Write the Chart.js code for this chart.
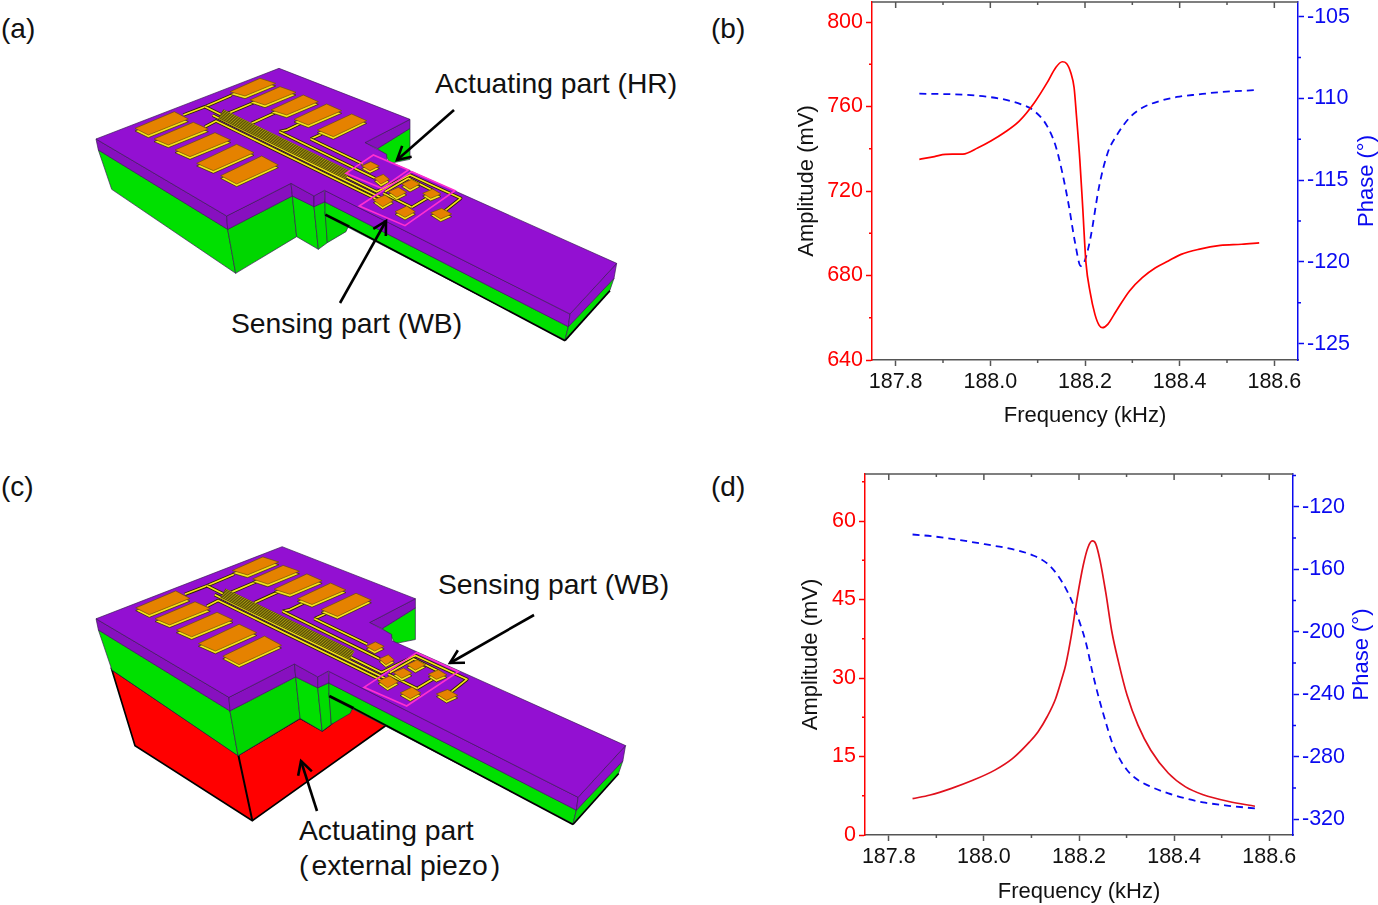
<!DOCTYPE html>
<html>
<head>
<meta charset="utf-8">
<title>Resonance curves</title>
<script src="https://cdn.jsdelivr.net/npm/chart.js@4"></script>
<style>
  html, body { margin: 0; padding: 0; background: #fff; }
  body { position: relative; width: 1378px; height: 905px; overflow: hidden; font-family: "Liberation Sans", Arial, sans-serif; }
  svg { position: absolute; left: 0; top: 0; }
  canvas { position: absolute; }
  svg text { font-family: "Liberation Sans", Arial, sans-serif; fill: #111; }
  .note { font-size: 28.3px; }
  .panel { font-size: 28px; }
</style>
</head>
<body>
<svg id="art" width="1378" height="905" viewBox="0 0 1378 905">
  <defs>
    <g id="device" transform="translate(90,60) scale(0.33333)" stroke-linejoin="round"></g>
  </defs>

  <!-- piezo block under the chip in (c) -->
  <polygon transform="translate(90,650) scale(0.33333)" fill="#ff0000" stroke="#000" stroke-width="5"
    points="65,58 445,315 630,205 697,242 720,225 785,170 890,225 487,512 135,287"/>
  <line transform="translate(90,650) scale(0.33333)" x1="445" y1="315" x2="487" y2="512" stroke="#000" stroke-width="6"/>

  <use href="#device"/>
  <use href="#device" transform="matrix(1.017 0 0 1.02 -1.6 477)"/>

  <!-- regions marked on the beam -->
  <g transform="translate(90,60) scale(0.33333)" fill="none" stroke="#ff2fd0" stroke-width="5">
    <polygon points="768,340 850,285 955,330 875,385"/>
    <polygon points="808,438 965,335 1095,392 945,497"/>
  </g>
  <g transform="translate(90,540) scale(0.33333)" fill="none" stroke="#ff2fd0" stroke-width="5">
    <polygon points="822,442 980,338 1105,395 950,498"/>
  </g>

  <g id="arrows" fill="none" stroke="#000" stroke-width="2.6"></g>

  <text class="panel" x="1" y="38">(a)</text>
  <text class="panel" x="711" y="38">(b)</text>
  <text class="panel" x="1" y="496">(c)</text>
  <text class="panel" x="711" y="496">(d)</text>
  <text class="note" x="435" y="93">Actuating part (HR)</text>
  <text class="note" x="231" y="333">Sensing part (WB)</text>
  <text class="note" x="438" y="594">Sensing part (WB)</text>
  <text class="note" x="299" y="840">Actuating part</text>
  <text class="note" x="299" y="875">(<tspan dx="3">external piezo</tspan><tspan dx="3">)</tspan></text>
</svg>

<canvas id="chartB" width="584" height="429" style="left:794px;top:0"></canvas>
<canvas id="chartD" width="575" height="905" style="left:798px;top:0"></canvas>

<script>
// values
const freqAmpB = [187.85,187.882,187.905,187.942,187.974,188.001,188.029,188.061,188.093,188.12,188.138,188.152,188.161,188.17,188.177,188.182,188.189,188.195,188.202,188.211,188.221,188.23,188.237,188.248,188.266,188.294,188.321,188.349,188.376,188.403,188.44,188.486,188.531,188.568];
const ampB = [735,736.3,737.4,737.5,740.5,743.7,747.6,753.1,761.8,771.3,778.4,781.2,780.4,776,768.9,755.5,735,712.9,686.1,671.9,661.6,656.4,655.3,656.9,663.2,672.7,679,683.7,686.9,690,692.4,694.3,694.8,695.5];
const freqPhaseB = [187.85,187.9,187.946,187.992,188.029,188.065,188.093,188.12,188.138,188.152,188.166,188.179,188.191,188.198,188.211,188.23,188.248,188.266,188.294,188.321,188.358,188.394,188.44,188.486,188.559];
const phaseB = [-109.71,-109.73,-109.77,-109.89,-110.06,-110.36,-110.77,-111.69,-112.91,-114.54,-116.58,-118.82,-120.25,-120.05,-118.62,-115.36,-113.32,-112.3,-111.18,-110.57,-110.16,-109.91,-109.75,-109.61,-109.49];

const freqAmpD = [187.85,187.887,187.932,187.978,188.023,188.06,188.096,188.114,188.133,188.151,188.164,188.172,188.184,188.196,188.209,188.219,188.228,188.235,188.244,188.256,188.269,188.283,188.301,188.324,188.351,188.388,188.424,188.461,188.515,188.57];
const ampD = [6.94,7.64,8.92,10.5,12.4,14.6,17.8,19.75,22.6,26.1,29.9,32.5,38.2,45.2,51.6,55,56.2,55.7,52.6,46.5,38.9,33.1,26.75,21,16.2,11.8,9.2,7.7,6.4,5.5];
const freqPhaseD = [187.85,187.896,187.95,188.005,188.06,188.105,188.133,188.155,188.174,188.187,188.201,188.215,188.228,188.242,188.256,188.269,188.283,188.301,188.324,188.351,188.388,188.424,188.461,188.515,188.57];
const phaseD = [-137.7,-139,-141.3,-144.1,-147.1,-151.3,-156.2,-163.7,-173.3,-181.8,-193.6,-207.4,-225.5,-242.6,-257.5,-270.3,-279.9,-288.4,-294.8,-299.1,-303.4,-306.6,-309.1,-311.3,-313];

const minorFreq = [187.9,188.1,188.3,188.5];
const minorAmpB = [660,700,740,780];
const minorPhaseB = [-122.5,-117.5,-112.5,-107.5];
const minorAmpD = [7.5,22.5,37.5,52.5,67.5];
const minorPhaseD = [-300,-260,-220,-180,-140,-100];

const FONT = '"Liberation Sans", Arial, sans-serif';
const RED = '#ff0000';
const BLUE = '#0a0af0';
const GREY = '#555555';

// ticks on the closed frame and the reversed right-hand title, which Chart.js cannot do itself
function framePlugin(minorLeft, minorRight, titleX) {
    return {
        id: 'frame',
        afterDraw(chart) {
            const { ctx, chartArea: a, scales } = chart;
            ctx.save();
            ctx.lineWidth = 1.5;
            ctx.strokeStyle = GREY;
            ctx.beginPath();
            ctx.moveTo(a.left, a.top);
            ctx.lineTo(a.right, a.top);
            scales.x.ticks.forEach(t => {
                const px = scales.x.getPixelForValue(t.value);
                ctx.moveTo(px, a.top);
                ctx.lineTo(px, a.top + 6);
            });
            minorFreq.forEach(v => {
                const px = scales.x.getPixelForValue(v);
                ctx.moveTo(px, a.top);
                ctx.lineTo(px, a.top + 3);
                ctx.moveTo(px, a.bottom);
                ctx.lineTo(px, a.bottom + 3);
            });
            ctx.stroke();

            ctx.strokeStyle = RED;
            ctx.beginPath();
            minorLeft.forEach(v => {
                const py = scales.y.getPixelForValue(v);
                ctx.moveTo(a.left, py);
                ctx.lineTo(a.left - 3, py);
            });
            ctx.stroke();

            ctx.strokeStyle = BLUE;
            ctx.beginPath();
            minorRight.forEach(v => {
                const py = scales.y2.getPixelForValue(v);
                ctx.moveTo(a.right, py);
                ctx.lineTo(a.right + 3, py);
            });
            ctx.stroke();

            ctx.translate(titleX, (a.top + a.bottom) / 2);
            ctx.rotate(-Math.PI / 2);
            ctx.fillStyle = BLUE;
            ctx.font = '22px ' + FONT;
            ctx.textAlign = 'center';
            ctx.textBaseline = 'middle';
            ctx.fillText('Phase (°)', 0, 0);
            ctx.restore();
        }
    };
}

function fixSize(w, h) {
    return scale => {
        if (w !== null) scale.width = w;
        if (h !== null) scale.height = h;
        scale.paddingLeft = scale.paddingRight = scale.paddingTop = scale.paddingBottom = 0;
    };
}

function makeChart(id, p) {
    const pairs = (xs, ys) => xs.map((x, i) => ({ x: x, y: ys[i] }));
    return new Chart(document.getElementById(id), {
        type: 'line',
        data: {
            datasets: [
                { data: pairs(p.freqAmp, p.amp), yAxisID: 'y', borderColor: p.ampColor, borderWidth: 1.7, pointRadius: 0, cubicInterpolationMode: 'monotone' },
                { data: pairs(p.freqPhase, p.phase), yAxisID: 'y2', borderColor: BLUE, borderWidth: 1.8, borderDash: [7, 5], pointRadius: 0, cubicInterpolationMode: 'monotone' }
            ]
        },
        options: {
            responsive: false,
            animation: false,
            devicePixelRatio: 1,
            layout: { padding: { top: p.top } },
            plugins: { legend: { display: false }, tooltip: { enabled: false } },
            scales: {
                x: {
                    type: 'linear', min: 187.75, max: 188.65,
                    afterFit: fixSize(null, p.xHeight),
                    border: { color: GREY, width: 1.5 },
                    grid: { drawOnChartArea: false, tickLength: 6, tickColor: GREY, tickWidth: 1.5 },
                    ticks: { stepSize: 0.2, includeBounds: false, autoSkip: false, maxRotation: 0, padding: 3, color: '#111',
                        font: { family: FONT, size: 21.5 }, callback: v => v.toFixed(1) },
                    title: { display: true, text: 'Frequency (kHz)', color: '#111', padding: 0, font: { family: FONT, size: 22 } }
                },
                y: {
                    position: 'left', min: p.ampMin, max: p.ampMax,
                    afterFit: fixSize(p.leftWidth, null),
                    border: { color: RED, width: 1.5 },
                    grid: { drawOnChartArea: false, tickLength: 6, tickColor: RED, tickWidth: 1.5 },
                    ticks: { stepSize: p.ampStep, includeBounds: false, autoSkip: false, padding: 3, color: RED,
                        font: { family: FONT, size: 21.5 } },
                    title: { display: true, text: 'Amplitude (mV)', color: '#111', padding: 0, font: { family: FONT, size: 22 } }
                },
                y2: {
                    position: 'right', min: p.phaseMin, max: p.phaseMax,
                    afterFit: fixSize(p.rightWidth, null),
                    border: { color: BLUE, width: 1.5 },
                    grid: { drawOnChartArea: false, tickLength: 6, tickColor: BLUE, tickWidth: 1.5 },
                    ticks: { stepSize: p.phaseStep, includeBounds: false, autoSkip: false, padding: 3, color: BLUE,
                        font: { family: FONT, size: 21.5 } }
                }
            }
        },
        plugins: [framePlugin(p.minorLeft, p.minorRight, p.phaseTitleX)]
    });
}

makeChart('chartB', {
    freqAmp: freqAmpB, amp: ampB, freqPhase: freqPhaseB, phase: phaseB, ampColor: RED,
    ampMin: 640, ampMax: 809.5, ampStep: 40, phaseMin: -126, phaseMax: -104.1, phaseStep: 5,
    minorLeft: minorAmpB, minorRight: minorPhaseB,
    top: 2, xHeight: 69, leftWidth: 78, rightWidth: 80, phaseTitleX: 573
});

makeChart('chartD', {
    freqAmp: freqAmpD, amp: ampD, freqPhase: freqPhaseD, phase: phaseD, ampColor: '#e0101c',
    ampMin: 0, ampMax: 69, ampStep: 15, phaseMin: -330, phaseMax: -99, phaseStep: 40,
    minorLeft: minorAmpD, minorRight: minorPhaseD,
    top: 474, xHeight: 70, leftWidth: 67, rightWidth: 80, phaseTitleX: 564
});

// device drawing, in coordinates of a 3x crop of panel (a)
const faces = [
    ['#00e000', '25,270 413,508 437,640 65,388'],
    ['#00d600', '413,508 607,408 620,530 437,640'],
    ['#00e000', '607,408 672,440 685,568 620,530'],
    ['#00dc00', '672,440 705,425 712,548 685,568'],
    ['#00d800', '705,455 778,492 768,515 712,548'],
    ['#00e000', '862,266 960,205 960,298 900,310 885,282'],
    ['#00e000', '705,426 1435,800 1425,840 705,466'],
    ['#00dc00', '1435,800 1572,655 1560,690 1425,840'],
    ['#8710bf', '825,248 960,178 960,205 862,266'],
    ['#8710bf', '18,237 410,468 413,508 25,270'],
    ['#8710bf', '410,468 603,370 607,408 413,508'],
    ['#8710bf', '603,370 672,408 672,440 607,408'],
    ['#8710bf', '672,408 703,391 705,425 672,440'],
    ['#8f10cc', '705,391 1440,762 1435,800 705,426'],
    ['#8f10cc', '1440,762 1580,610 1572,655 1435,800'],
    ['#9310d2', '18,237 567,25 960,178 825,248 890,283 890,301 1580,610 1440,762 703,391 672,408 603,370 410,468']
];
const pads = [
    '135,205 253,155 295,177 175,225', '192,237 310,187 355,207 235,255', '255,270 375,218 422,240 300,290',
    '320,310 440,253 492,278 370,332', '392,347 515,288 565,315 440,372',
    '420,95 510,55 557,70 465,108', '480,120 570,80 618,97 525,135', '543,150 640,105 685,125 590,165',
    '612,178 710,132 755,152 655,195', '682,210 785,162 830,182 730,230',
    '815,318 842,305 868,318 840,332', '853,355 880,343 898,358 873,372', '935,372 965,358 990,372 960,388',
    '895,395 925,382 950,397 920,412', '850,420 885,405 910,422 878,440', '915,455 950,438 976,455 945,472',
    '998,400 1028,387 1053,402 1022,415', '1022,458 1055,445 1085,462 1052,477'
];
const wires = [
    '280,165 345,140 425,106', '415,160 490,128', '485,190 555,158', '568,215 590,210 632,190',
    '568,215 855,355', '662,237 695,222', '662,237 818,312', '345,200 378,183 860,418',
    '345,140 860,395 960,345 1112,415 1062,455', '885,395 955,355 1030,392', '965,442 1022,408',
    '880,400 965,442', '368,166 870,412'
];

let art = '';
faces.forEach(f => {
    art += `<polygon points="${f[1]}" fill="${f[0]}" stroke="#3a1a55" stroke-width="2"/>`;
});
art += '<line x1="706" y1="464" x2="778" y2="500" stroke="#000" stroke-width="8"/>';
art += '<line x1="778" y1="500" x2="1425" y2="842" stroke="#000" stroke-width="5"/>';
art += '<line x1="1425" y1="842" x2="1560" y2="692" stroke="#000" stroke-width="5"/>';
wires.forEach(w => {
    art += `<polyline points="${w}" fill="none" stroke="#2a2400" stroke-width="10"/>`;
    art += `<polyline points="${w}" fill="none" stroke="#f4e21a" stroke-width="5"/>`;
});
// striped bundle of traces through the middle of the chip
art += '<polygon points="400,148 780,332 766,358 385,176" fill="#2a2400"/>';
for (let i = 0; i < 8; i++) {
    const y = 150 + i * 3.6;
    art += `<line x1="${400 - i * 2}" y1="${y}" x2="${780 - i * 2}" y2="${y + 184}" stroke="#e6d318" stroke-width="2"/>`;
}
pads.forEach(p => {
    art += `<polygon points="${p}" transform="translate(0,8)" fill="#f4e21a" stroke="#2a2400" stroke-width="2"/>`;
    art += `<polygon points="${p}" fill="#e58200" stroke="#6a5200" stroke-width="2"/>`;
});
document.getElementById('device').innerHTML = art;

// open-headed arrows: tail x, y then tip x, y
const arrowLines = [[454, 110, 397, 160], [340, 303, 386, 221], [534, 615, 450, 663], [317, 811, 301, 761]];
let arrowArt = '';
arrowLines.forEach(a => {
    const ang = Math.atan2(a[3] - a[1], a[2] - a[0]);
    const wing = s => `${a[2] - 15 * Math.cos(ang + s)},${a[3] - 15 * Math.sin(ang + s)}`;
    arrowArt += `<line x1="${a[0]}" y1="${a[1]}" x2="${a[2]}" y2="${a[3]}"/>`;
    arrowArt += `<polyline points="${wing(0.5)} ${a[2]},${a[3]} ${wing(-0.5)}"/>`;
});
document.getElementById('arrows').innerHTML = arrowArt;
</script>
</body>
</html>
